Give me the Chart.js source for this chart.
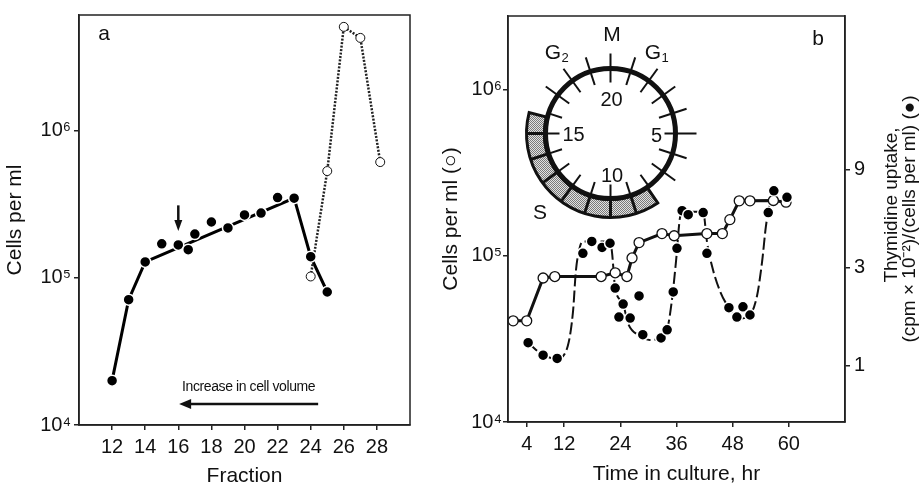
<!DOCTYPE html>
<html>
<head>
<meta charset="utf-8">
<script src="https://cdn.jsdelivr.net/npm/chart.js@4.4.1/dist/chart.umd.min.js"></script>
<style>
  body { margin: 0; background: #fff; }
  #wrap { position: relative; width: 921px; height: 487px; }
  canvas { position: absolute; top: 0; }
  #chartA { left: 0; }
  #chartB { left: 430px; }
</style>
</head>
<body>
<div id="wrap">
  <canvas id="chartA" width="430" height="487"></canvas>
  <canvas id="chartB" width="491" height="487"></canvas>
</div>
<script>
// ---- panel a: cells per ml in each elutriation fraction
const fractionFilled = [12, 13, 14, 15, 16, 16.6, 17, 18, 19, 20, 21, 22, 23, 24, 25];
const cellsFilled = [2.0e4, 7.1e4, 1.28e5, 1.7e5, 1.67e5, 1.55e5, 1.98e5, 2.39e5, 2.18e5, 2.67e5, 2.75e5, 3.5e5, 3.47e5, 1.39e5, 8.0e4];
const filledLinePoints = [0, 1, 2, 12, 13, 14]; // 12-13-14, fit 14->23, 23-24-25
const fractionOpen = [24, 25, 26, 27, 28.2];
const cellsOpen = [1.02e5, 5.3e5, 5.05e6, 4.25e6, 6.1e5];
const fractionTicks = [12, 14, 16, 18, 20, 22, 24, 26, 28];
const cellTicks = [1e4, 1e5, 1e6];

// ---- panel b: synchronized culture
const hoursOpen = [1.1, 4.0, 7.5, 10.0, 19.9, 22.9, 25.4, 26.5, 28.0, 32.9, 35.5, 42.5, 45.8, 47.4, 49.4, 51.7, 56.7, 59.4];
const cellsOpenB = [4.06e4, 4.06e4, 7.35e4, 7.5e4, 7.5e4, 7.9e4, 7.5e4, 9.7e4, 1.2e5, 1.36e5, 1.32e5, 1.36e5, 1.36e5, 1.65e5, 2.14e5, 2.14e5, 2.15e5, 2.1e5];
const hoursFilled = [4.3, 7.5, 10.5, 16.0, 17.9, 20.1, 21.8, 22.9, 23.7, 24.6, 26.1, 28.0, 28.8, 32.7, 34.0, 35.3, 36.1, 37.2, 38.5, 41.7, 42.5, 47.2, 48.9, 50.2, 51.7, 55.6, 56.8, 59.6];
const uptake = [1.29, 1.12, 1.08, 3.52, 4.02, 3.76, 3.94, 2.38, 1.72, 1.99, 1.70, 2.18, 1.41, 1.36, 1.49, 2.28, 3.72, 5.68, 5.43, 5.56, 3.52, 1.91, 1.72, 1.93, 1.76, 5.56, 7.1, 6.6];
const curveHours = [4.3, 7.5, 10.5, 12.8, 13.9, 14.5, 15.4, 16.2, 21.8, 22.2, 22.9, 24.6, 25.6, 28.2, 30.3, 32.7, 34.0, 35.0, 35.9, 36.8, 37.6, 41.7, 42.5, 43.6, 45.3, 47.2, 49.6, 51.7, 53.2, 54.3, 55.1, 56.0, 56.8];
const curveUptake = [1.29, 1.12, 1.08, 1.25, 1.84, 2.88, 3.81, 4.02, 4.02, 3.60, 2.38, 1.99, 1.61, 1.39, 1.33, 1.36, 1.49, 2.06, 3.22, 5.32, 5.62, 5.62, 4.02, 3.04, 2.30, 1.91, 1.69, 1.76, 2.18, 3.22, 4.76, 6.29, 7.03];
const hourTicks = [4, 12, 24, 36, 48, 60];
const uptakeTicks = [1, 3, 9];
const cycleNumbers = ['20', '5', '10', '15'];

const FONT = "'Liberation Sans', Arial, Helvetica, sans-serif";
const INK = '#111';
Chart.defaults.font.family = FONT;
Chart.defaults.color = INK;

const sup = { '0': '⁰', '1': '¹', '2': '²', '3': '³', '4': '⁴', '5': '⁵', '6': '⁶', '7': '⁷' };
const powLabel = v => '10' + String(Math.round(Math.log10(v))).split('').map(c => sup[c]).join('');
const pts = (xs, ys) => xs.map((x, i) => ({ x: x, y: ys[i] }));

const frame = {
  id: 'frame',
  afterDraw(chart) {
    const { ctx, chartArea: a } = chart;
    ctx.save();
    ctx.strokeStyle = '#222';
    ctx.lineWidth = 1.5;
    ctx.strokeRect(a.left, a.top, a.right - a.left, a.bottom - a.top);
    ctx.restore();
  }
};

function axisStyle(extra) {
  return Object.assign({
    grid: { drawOnChartArea: false, tickLength: 5, color: '#222', lineWidth: 1.5 },
    border: { color: '#222', width: 1.5 },
  }, extra);
}

// ---------- panel a ----------
const annotA = {
  id: 'annotA',
  afterDraw(chart) {
    const { ctx, chartArea: a } = chart;
    const xs = chart.scales.x, ys = chart.scales.y;
    ctx.save();
    ctx.fillStyle = INK;
    ctx.strokeStyle = INK;
    // arrow marking fraction 16
    const ax = xs.getPixelForValue(16);
    const yTop = ys.getPixelForValue(3.1e5), yTip = ys.getPixelForValue(2.08e5);
    ctx.lineWidth = 2.5;
    ctx.beginPath(); ctx.moveTo(ax, yTop); ctx.lineTo(ax, yTip - 8); ctx.stroke();
    ctx.beginPath(); ctx.moveTo(ax - 4, yTip - 11); ctx.lineTo(ax + 4, yTip - 11); ctx.lineTo(ax, yTip); ctx.closePath(); ctx.fill();
    // increase in cell volume arrow
    const hy = ys.getPixelForValue(1.39e4);
    const hx0 = xs.getPixelForValue(24.45), hx1 = xs.getPixelForValue(16.05);
    ctx.lineWidth = 2.5;
    ctx.beginPath(); ctx.moveTo(hx0, hy); ctx.lineTo(hx1 + 10, hy); ctx.stroke();
    ctx.beginPath(); ctx.moveTo(hx1 + 12, hy - 5); ctx.lineTo(hx1 + 12, hy + 5); ctx.lineTo(hx1, hy); ctx.closePath(); ctx.fill();
    ctx.font = '14px ' + FONT;
    ctx.letterSpacing = '-0.4px';
    ctx.textAlign = 'center';
    ctx.textBaseline = 'middle';
    ctx.fillText('Increase in cell volume', xs.getPixelForValue(20.25), ys.getPixelForValue(1.8e4));
    ctx.letterSpacing = '0px';
    ctx.font = '21px ' + FONT;
    ctx.fillText('a', a.left + 25, a.top + 19);
    ctx.restore();
  }
};

new Chart(document.getElementById('chartA'), {
  type: 'line',
  data: {
    datasets: [
      {
        data: pts(fractionFilled, cellsFilled),
        showLine: false,
        pointRadius: 5.5,
        pointBackgroundColor: '#000',
        pointBorderColor: '#fff',
        pointBorderWidth: 1.5
      },
      {
        data: pts(fractionOpen, cellsOpen),
        showLine: true,
        borderColor: '#222',
        borderWidth: 2.5,
        borderDash: [2, 1.5],
        pointRadius: 4.5,
        pointBackgroundColor: '#fff',
        pointBorderColor: '#111',
        pointBorderWidth: 1
      },
      {
        data: filledLinePoints.map(i => ({ x: fractionFilled[i], y: cellsFilled[i] })),
        showLine: true,
        borderColor: '#000',
        borderWidth: 3,
        pointRadius: 0
      }
    ]
  },
  options: {
    responsive: false,
    animation: false,
    layout: { padding: { left: 0, right: 20, top: 13, bottom: 0 } },
    plugins: { legend: { display: false }, tooltip: { enabled: false } },
    scales: {
      x: axisStyle({
        type: 'linear', min: 10, max: 30,
        afterBuildTicks: s => { s.ticks = fractionTicks.map(v => ({ value: v })); },
        afterFit: s => { s.height = 62; },
        ticks: { font: { size: 20 }, color: INK, padding: 5, maxRotation: 0, autoSkip: false },
        title: { display: true, text: 'Fraction', color: INK, font: { size: 21, lineHeight: 1 }, padding: { top: 0, bottom: 0 } }
      }),
      y: axisStyle({
        type: 'logarithmic', min: 1e4, max: 6.08e6,
        afterBuildTicks: s => { s.ticks = cellTicks.map(v => ({ value: v })); },
        afterFit: s => { s.width = 79; },
        ticks: { font: { size: 20 }, color: INK, padding: 3, autoSkip: false, callback: v => powLabel(v) },
        title: { display: true, text: 'Cells per ml', color: INK, font: { size: 21, lineHeight: 1.2 }, padding: { top: 3, bottom: 0 } }
      })
    }
  },
  plugins: [frame, annotA]
});

// ---------- panel b ----------
function stipple(ctx) {
  const c = document.createElement('canvas');
  c.width = 2; c.height = 2;
  const p = c.getContext('2d');
  p.fillStyle = '#e2e2e2'; p.fillRect(0, 0, 2, 2);
  p.fillStyle = '#7a7a7a'; p.fillRect(0, 0, 1, 1); p.fillRect(1, 1, 1, 1);
  return ctx.createPattern(c, 'repeat');
}

const annotB = {
  id: 'annotB',
  afterDraw(chart) {
    const { ctx, chartArea: a } = chart;
    ctx.save();
    ctx.fillStyle = INK;
    ctx.strokeStyle = INK;

    // cell-cycle clock inset
    const cx = a.left + 102.5, cy = a.top + 117.5, R = 65;
    const ang = u => (u * 18 - 90) * Math.PI / 180;
    const band = () => {
      ctx.beginPath();
      ctx.arc(cx, cy, 84, ang(8.1), ang(15.8));
      ctx.arc(cx, cy, 66, ang(15.8), ang(8.1), true);
      ctx.closePath();
    };
    band();
    ctx.fillStyle = stipple(ctx);
    ctx.fill();
    ctx.strokeStyle = INK;
    ctx.lineWidth = 3;
    for (let u = 9; u <= 15; u++) {
      ctx.beginPath();
      ctx.moveTo(cx + 66 * Math.cos(ang(u)), cy + 66 * Math.sin(ang(u)));
      ctx.lineTo(cx + 84 * Math.cos(ang(u)), cy + 84 * Math.sin(ang(u)));
      ctx.stroke();
    }
    band();
    ctx.lineWidth = 3;
    ctx.stroke();

    ctx.lineWidth = 5;
    ctx.beginPath(); ctx.arc(cx, cy, R, 0, Math.PI * 2); ctx.stroke();
    ctx.lineWidth = 2;
    for (let u = 0; u < 20; u++) {
      let r1 = 51, r2 = (u >= 8 && u <= 16) ? R : 80;
      if (u === 5) { r1 = 54; r2 = 86; }
      ctx.beginPath();
      ctx.moveTo(cx + r1 * Math.cos(ang(u)), cy + r1 * Math.sin(ang(u)));
      ctx.lineTo(cx + r2 * Math.cos(ang(u)), cy + r2 * Math.sin(ang(u)));
      ctx.stroke();
    }
    ctx.fillStyle = INK;
    ctx.textAlign = 'center';
    ctx.textBaseline = 'middle';
    ctx.font = '20px ' + FONT;
    ctx.fillText(cycleNumbers[0], cx + 1, cy - 33);
    ctx.fillText(cycleNumbers[1], cx + 46, cy + 3);
    ctx.fillText(cycleNumbers[2], cx + 1.5, cy + 43);
    ctx.fillText(cycleNumbers[3], cx - 37, cy + 2);
    ctx.font = '21px ' + FONT;
    ctx.fillText('M', cx + 1.5, cy - 98);
    ctx.fillText('S', cx - 70.5, cy + 80);
    const phase = (x, y, s) => {
      ctx.font = '21px ' + FONT;
      ctx.fillText('G', x - 4, y);
      ctx.font = '13px ' + FONT;
      ctx.fillText(s, x + 8, y + 5);
    };
    phase(cx - 53.5, cy - 80, '2');
    phase(cx + 46.5, cy - 80, '1');

    // panel label
    ctx.font = '21px ' + FONT;
    ctx.fillText('b', a.left + 310, a.top + 23);

    // right axis title, reading bottom to top
    const mid = (a.top + a.bottom) / 2;
    ctx.font = '19px ' + FONT;
    ctx.save();
    ctx.translate(a.right + 47, mid - 14);
    ctx.rotate(-Math.PI / 2);
    ctx.fillText('Thymidine uptake,', 0, 0);
    ctx.restore();
    ctx.save();
    ctx.translate(a.right + 65, mid);
    ctx.rotate(-Math.PI / 2);
    ctx.fillText('(cpm × 10⁻²)/(cells per ml) (●)', 0, 0);
    ctx.restore();
    ctx.restore();
  }
};

new Chart(document.getElementById('chartB'), {
  type: 'line',
  data: {
    datasets: [
      {
        data: pts(hoursFilled, uptake),
        yAxisID: 'y2',
        showLine: false,
        pointRadius: 5.5,
        pointBackgroundColor: '#000',
        pointBorderColor: '#fff',
        pointBorderWidth: 1.5
      },
      {
        data: pts(hoursOpen, cellsOpenB),
        yAxisID: 'y',
        showLine: true,
        borderColor: '#111',
        borderWidth: 3,
        pointRadius: 5,
        pointBackgroundColor: '#fff',
        pointBorderColor: '#111',
        pointBorderWidth: 1.3
      },
      {
        data: pts(curveHours, curveUptake),
        yAxisID: 'y2',
        showLine: true,
        borderColor: '#111',
        borderWidth: 2,
        borderDash: [12, 4],
        cubicInterpolationMode: 'monotone',
        pointRadius: 0
      }
    ]
  },
  options: {
    responsive: false,
    animation: false,
    layout: { padding: { left: 0, right: 0, top: 13, bottom: 0 } },
    plugins: { legend: { display: false }, tooltip: { enabled: false } },
    scales: {
      x: axisStyle({
        type: 'linear', min: 0, max: 72,
        afterBuildTicks: s => { s.ticks = hourTicks.map(v => ({ value: v })); },
        afterFit: s => { s.height = 65; },
        ticks: { font: { size: 20 }, color: INK, padding: 5, maxRotation: 0, autoSkip: false },
        title: { display: true, text: 'Time in culture, hr', color: INK, font: { size: 21, lineHeight: 1 }, padding: { top: 0, bottom: 2 } }
      }),
      y: axisStyle({
        type: 'logarithmic', position: 'left', min: 1e4, max: 2.77e6,
        afterBuildTicks: s => { s.ticks = cellTicks.map(v => ({ value: v })); },
        afterFit: s => { s.width = 78; },
        ticks: { font: { size: 20 }, color: INK, padding: 1, autoSkip: false, callback: v => powLabel(v) },
        title: { display: true, text: 'Cells per ml (○)', color: INK, font: { size: 21, lineHeight: 1.2 }, padding: { top: 9, bottom: 0 } }
      }),
      y2: axisStyle({
        type: 'logarithmic', position: 'right', min: 0.529, max: 50.6,
        afterBuildTicks: s => { s.ticks = uptakeTicks.map(v => ({ value: v })); },
        afterFit: s => { s.width = 76; },
        ticks: { font: { size: 20 }, color: INK, padding: 4, autoSkip: false, callback: v => String(v) }
      })
    }
  },
  plugins: [frame, annotB]
});
</script>
</body>
</html>
